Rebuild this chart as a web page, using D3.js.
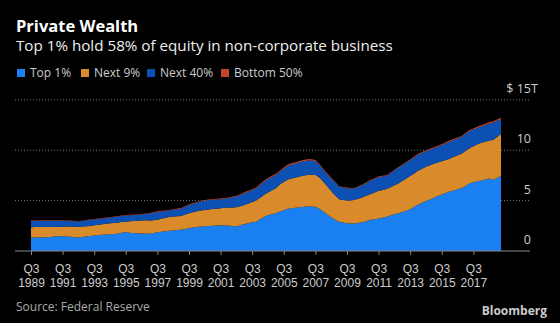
<!DOCTYPE html>
<html>
<head>
<meta charset="utf-8">
<script src="https://cdn.jsdelivr.net/npm/d3@7"></script>
<style>
  body { margin: 0; background: #000; }
  svg { display: block; font-family: "Open Sans", "Noto Sans", sans-serif; }
  .grid line { stroke: #777; stroke-dasharray: 1,2; }
  .ylab { fill: #ccc; font-size: 12.5px; }
  .x.axis text { fill: #ccc; font-size: 12px; }
  .x.axis line, .x.axis path { stroke: #888; }
</style>
</head>
<body>
<script>
// quarterly data, Q3 1989 .. Q2 2019, $ trillions
var startYear = 1989, startQuarter = 3;
var quarters = d3.range(120).map(function(i) {
  var q = startQuarter - 1 + i;
  return (startYear + Math.floor(q / 4)) + " Q" + (q % 4 + 1);
});

var top1 = [
  1.33,1.34,1.35,1.37,1.36,1.38,1.44,1.48,1.46,1.44,
  1.42,1.37,1.33,1.38,1.44,1.49,1.54,1.59,1.61,1.64,
  1.66,1.69,1.72,1.80,1.89,1.82,1.76,1.75,1.74,1.74,
  1.72,1.78,1.85,1.90,1.95,2.00,2.04,2.08,2.10,2.18,
  2.26,2.32,2.38,2.42,2.46,2.49,2.51,2.53,2.55,2.54,
  2.52,2.47,2.42,2.55,2.68,2.76,2.84,2.91,3.15,3.41,
  3.55,3.66,3.75,3.91,4.05,4.20,4.25,4.30,4.34,4.38,
  4.41,4.42,4.38,4.20,3.91,3.62,3.35,3.10,2.91,2.82,
  2.75,2.73,2.72,2.80,2.86,2.98,3.10,3.16,3.22,3.30,
  3.41,3.52,3.64,3.75,3.88,4.00,4.14,4.38,4.60,4.78,
  4.95,5.10,5.28,5.45,5.60,5.75,5.90,6.00,6.12,6.23,
  6.45,6.70,6.82,6.92,7.00,7.10,7.20,7.06,7.25,7.46
];

var next9 = [
  1.03,1.03,1.02,1.01,1.02,1.00,0.95,0.92,0.95,0.98,
  1.00,1.03,1.05,1.04,1.02,1.00,1.01,1.01,1.04,1.06,
  1.09,1.10,1.11,1.07,1.02,1.12,1.21,1.25,1.28,1.30,
  1.30,1.28,1.25,1.30,1.35,1.38,1.38,1.37,1.38,1.44,
  1.49,1.53,1.56,1.59,1.61,1.63,1.65,1.67,1.69,1.74,
  1.79,1.85,1.91,1.90,1.89,1.96,2.02,2.09,2.13,2.16,
  2.25,2.36,2.48,2.69,2.80,2.90,2.95,3.00,3.06,3.10,
  3.14,3.14,3.17,3.10,2.99,2.80,2.60,2.42,2.23,2.23,
  2.25,2.29,2.36,2.40,2.48,2.52,2.55,2.64,2.76,2.76,
  2.74,2.81,2.88,2.95,3.07,3.20,3.31,3.32,3.35,3.37,
  3.40,3.40,3.37,3.33,3.30,3.27,3.25,3.32,3.38,3.42,
  3.47,3.50,3.58,3.66,3.75,3.75,3.75,3.94,4.05,4.14
];

var next40 = [
  0.62,0.62,0.62,0.62,0.61,0.61,0.61,0.60,0.58,0.56,
  0.56,0.55,0.54,0.56,0.58,0.59,0.58,0.58,0.57,0.57,
  0.56,0.58,0.59,0.60,0.60,0.60,0.60,0.60,0.61,0.62,
  0.70,0.74,0.78,0.73,0.67,0.63,0.66,0.69,0.72,0.76,
  0.80,0.83,0.86,0.89,0.91,0.93,0.93,0.92,0.90,0.91,
  0.93,1.00,1.07,1.11,1.16,1.16,1.18,1.20,1.27,1.32,
  1.32,1.32,1.32,1.25,1.30,1.35,1.37,1.38,1.40,1.42,
  1.43,1.42,1.37,1.25,1.15,1.20,1.27,1.28,1.26,1.25,
  1.23,1.18,1.14,1.18,1.22,1.28,1.34,1.35,1.36,1.34,
  1.30,1.39,1.46,1.55,1.55,1.55,1.55,1.58,1.60,1.57,
  1.55,1.55,1.55,1.57,1.60,1.66,1.70,1.68,1.65,1.65,
  1.68,1.70,1.65,1.62,1.60,1.65,1.70,1.75,1.62,1.50
];

var bottom50 = [
  0.05,0.05,0.05,0.05,0.05,0.05,0.05,0.05,0.05,0.05,
  0.05,0.04,0.04,0.04,0.04,0.05,0.05,0.05,0.05,0.05,
  0.05,0.05,0.05,0.05,0.05,0.05,0.05,0.05,0.05,0.06,
  0.06,0.06,0.06,0.06,0.06,0.06,0.07,0.07,0.07,0.07,
  0.07,0.07,0.07,0.07,0.07,0.07,0.07,0.07,0.07,0.07,
  0.07,0.08,0.08,0.08,0.09,0.09,0.09,0.10,0.10,0.11,
  0.11,0.12,0.12,0.12,0.13,0.13,0.13,0.13,0.13,0.13,
  0.13,0.13,0.12,0.11,0.10,0.09,0.08,0.07,0.06,0.06,
  0.06,0.06,0.06,0.06,0.06,0.06,0.07,0.07,0.07,0.07,
  0.07,0.07,0.08,0.08,0.08,0.08,0.08,0.09,0.09,0.09,
  0.09,0.09,0.10,0.10,0.10,0.10,0.10,0.10,0.11,0.11,
  0.11,0.11,0.11,0.12,0.12,0.12,0.12,0.12,0.12,0.12
];

var seriesNames = ["Top 1%", "Next 9%", "Next 40%", "Bottom 50%"];
var colors = ["#1a7ff0", "#d98a2b", "#0d50b4", "#c5482c"];
var yTicks = [0, 5, 10, 15];
var tickYears = [1989, 1991, 1993, 1995, 1997, 1999, 2001, 2003, 2005, 2007, 2009, 2011, 2013, 2015, 2017];

var width = 560, height = 323;

var svg = d3.select("body").append("svg")
    .attr("width", width)
    .attr("height", height);

svg.append("rect")
    .attr("width", width)
    .attr("height", height)
    .attr("fill", "#000");

// titles
svg.append("text")
    .attr("x", 16).attr("y", 32)
    .attr("fill", "#fff")
    .style("font-size", "16.5px").style("font-weight", "bold")
    .text("Private Wealth");

svg.append("text")
    .attr("x", 16).attr("y", 51)
    .attr("fill", "#eee")
    .style("font-size", "15.2px")
    .text("Top 1% hold 58% of equity in non-corporate business");

// legend
var legendX = [17, 81, 147, 221];
var legend = svg.selectAll(".legend")
    .data(seriesNames)
  .enter().append("g")
    .attr("class", "legend")
    .attr("transform", function(d, i) { return "translate(" + legendX[i] + ",69)"; });

legend.append("rect")
    .attr("width", 8).attr("height", 8)
    .attr("fill", function(d, i) { return colors[i]; });

legend.append("text")
    .attr("x", 13).attr("y", 8)
    .attr("fill", "#ccc")
    .style("font-size", "12px")
    .text(function(d) { return d; });

// scales
var x = d3.scaleLinear()
    .domain([0, quarters.length - 1])
    .range([31, 501]);

var y = d3.scaleLinear()
    .domain([0, 15])
    .range([251, 99.8]);

var rows = quarters.map(function(q, i) {
  return { i: i, a: top1[i], b: next9[i], c: next40[i], d: bottom50[i] };
});

var stack = d3.stack().keys(["a", "b", "c", "d"]);
var layers = stack(rows);

// gridlines
svg.append("g")
    .attr("class", "grid")
  .selectAll("line")
    .data(yTicks.filter(function(d) { return d > 0; }))
  .enter().append("line")
    .attr("x1", 15).attr("x2", 530)
    .attr("y1", function(d) { return y(d); })
    .attr("y2", function(d) { return y(d); });

var area = d3.area()
    .x(function(d) { return x(d.data.i); })
    .y0(function(d) { return y(d[0]); })
    .y1(function(d) { return y(d[1]); });

svg.selectAll(".layer")
    .data(layers)
  .enter().append("path")
    .attr("class", "layer")
    .attr("d", area)
    .attr("fill", function(d, i) { return colors[i]; });

// y labels
svg.selectAll(".ylab")
    .data(yTicks)
  .enter().append("text")
    .attr("class", "ylab")
    .attr("x", 531)
    .attr("y", function(d) { return y(d) - 7; })
    .style("text-anchor", "end")
    .text(function(d) { return d === 15 ? "$ 15" : d; });

svg.append("text")
    .attr("class", "ylab")
    .attr("x", 531)
    .attr("y", y(15) - 7)
    .text("T");

// x axis
var xAxis = d3.axisBottom(x)
    .tickValues(tickYears.map(function(yr) { return (yr - startYear) * 4; }))
    .tickSize(4)
    .tickSizeOuter(0)
    .tickFormat("");

var xg = svg.append("g")
    .attr("class", "x axis")
    .attr("transform", "translate(0," + y(0) + ")")
    .call(xAxis);

xg.select(".domain").remove();
xg.append("line")
    .attr("x1", 15).attr("x2", 530)
    .attr("y1", 0).attr("y2", 0);

var labels = xg.selectAll(".tick").append("text")
    .style("text-anchor", "middle");
labels.append("tspan")
    .attr("x", 0).attr("y", 22)
    .text("Q3");
labels.append("tspan")
    .attr("x", 0).attr("y", 36)
    .text(function(d) { return startYear + d / 4; });

// footer
svg.append("text")
    .attr("x", 16).attr("y", 311)
    .attr("fill", "#aaa")
    .style("font-size", "12px")
    .text("Source: Federal Reserve");

svg.append("text")
    .attr("x", 547).attr("y", 315)
    .attr("fill", "#ccc")
    .style("font-size", "12px").style("font-weight", "bold")
    .style("text-anchor", "end")
    .text("Bloomberg");
</script>
</body>
</html>
